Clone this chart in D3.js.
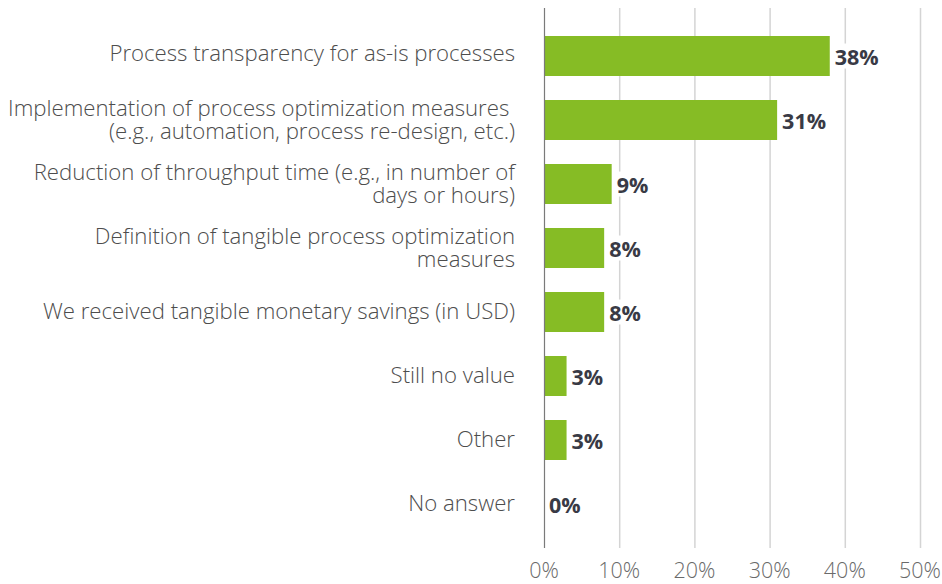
<!DOCTYPE html>
<html lang="en">
<head>
<meta charset="UTF-8">
<title>Value received</title>
<style>
    body{ margin:0; background:white; }
    svg text{ font-family:"Open Sans", sans-serif; }
</style>
</head>
<body>
<script src="https://d3js.org/d3.v7.min.js"></script>
<script>

var categories = [
    ["Process transparency for as-is processes"],
    ["Implementation of process optimization measures\u00a0", "(e.g., automation, process re-design, etc.)"],
    ["Reduction of throughput time (e.g., in number of", "days or hours)"],
    ["Definition of tangible process optimization", "measures"],
    ["We received tangible monetary savings (in USD)"],
    ["Still no value"],
    ["Other"],
    ["No answer"]
];
var values = [38, 31, 9, 8, 8, 3, 3, 0];
var ticks = [0, 10, 20, 30, 40, 50];

var width = 942, height = 584;

var svg = d3.select("body").append("svg")
        .attr("width", width)
        .attr("height", height);

var x = d3.scaleLinear().domain([0, 50]).range([544, 920]);
var y = d3.scaleBand()
        .domain(d3.range(categories.length))
        .range([24, 536])
        .paddingInner(0.375)
        .paddingOuter(0.1875);

// grid
svg.selectAll(".grid").data(ticks.slice(1)).enter().append("line")
        .attr("class", "grid")
        .attr("x1", function(d){ return x(d) + 0.5; })
        .attr("x2", function(d){ return x(d) + 0.5; })
        .attr("y1", 8)
        .attr("y2", 548)
        .style("stroke", "#d4d4d4")
        .style("stroke-width", 1.5);

// bars
svg.selectAll(".bar").data(values).enter().append("rect")
        .attr("class", "bar")
        .attr("x", x(0))
        .attr("y", function(d, i){ return y(i); })
        .attr("width", function(d){ return x(d) - x(0); })
        .attr("height", y.bandwidth())
        .style("fill", "#86bc25");

// axis line
svg.append("line")
        .attr("x1", x(0) + 0.5).attr("x2", x(0) + 0.5)
        .attr("y1", 8).attr("y2", 548)
        .style("stroke", "#7a7a7a")
        .style("stroke-width", 1.2);

// value labels with white backing
var vl = svg.selectAll(".val").data(values).enter().append("g")
        .attr("class", "val")
        .attr("transform", function(d, i){ return "translate(" + (x(d) + 5) + "," + (y(i) + y.bandwidth()/2 + 1) + ")"; });

vl.append("text")
        .attr("dy", "0.35em")
        .style("font-size", "21.5px")
        .style("font-weight", 700)
        .style("fill", "#393a45")
        .text(function(d){ return d + "%"; });

vl.insert("rect", "text")
        .each(function(){
            var bb = this.parentNode.querySelector("text").getBBox();
            d3.select(this)
                .attr("x", bb.x - 2).attr("y", bb.y + 2)
                .attr("width", bb.width + 4).attr("height", bb.height - 4);
        })
        .style("fill", "white");

// category labels
var cl = svg.selectAll(".cat").data(categories).enter().append("text")
        .attr("class", "cat")
        .attr("text-anchor", "end")
        .style("font-size", "22.2px")
        .style("font-weight", 300)
        .style("fill", "#4d4d4d");

cl.each(function(lines, i){
    var cy = y(i) + y.bandwidth()/2 - (i === 0 ? 3 : 0.5);
    var lh = 23.5;
    var t0 = cy - (lines.length - 1) * lh / 2;
    d3.select(this).selectAll("tspan").data(lines).enter().append("tspan")
            .attr("x", 515)
            .attr("y", function(d, j){ return t0 + j * lh; })
            .attr("dy", "0.35em")
            .text(function(d){ return d; });
});

// tick labels
svg.selectAll(".tick").data(ticks).enter().append("text")
        .attr("class", "tick")
        .attr("x", function(d){ return x(d); })
        .attr("y", 578)
        .attr("text-anchor", "middle")
        .style("font-size", "21.5px")
        .style("font-weight", 300)
        .style("fill", "#6a6a6a")
        .text(function(d){ return d + "%"; });

</script>
</body>
</html>
